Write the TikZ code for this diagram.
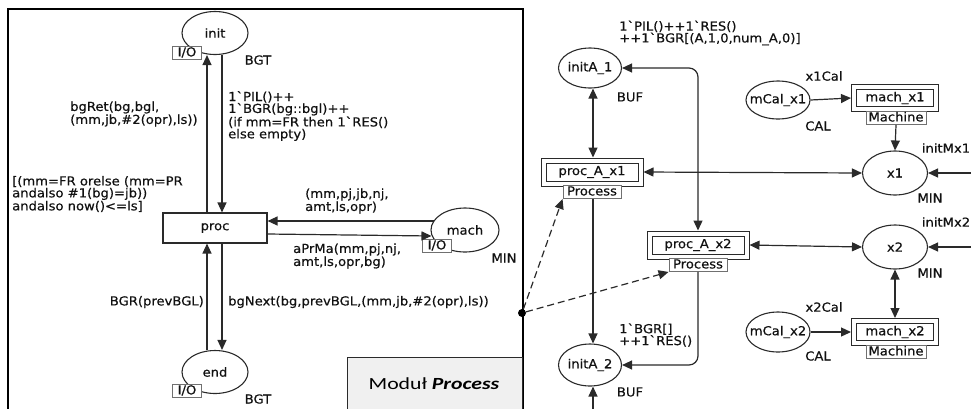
\documentclass[tikz,border=0pt]{standalone}
\usepackage{fontspec}
\newfontfamily\cpn{DejaVu Sans}[FakeStretch=1.06, FakeBold=0.5]
\newfontfamily\modfont{Carlito}[FakeStretch=1.28]
\usetikzlibrary{arrows.meta,calc,shapes.geometric}
\newcommand\cpntext{\cpn\fontsize{12.4pt}{11.9pt}\selectfont}
\definecolor{linec}{HTML}{2A2A2A}
\definecolor{textc}{HTML}{111111}
\definecolor{tagc}{HTML}{707070}
\definecolor{modfill}{HTML}{F0F0F0}
\tikzset{
  place/.style={ellipse, draw=linec, line width=1.1pt, inner xsep=-7pt,
    inner ysep=0pt, minimum width=66pt, minimum height=43pt,
    font=\cpntext, text=textc},
  trans/.style={rectangle, draw=linec, line width=1.1pt, inner sep=0pt,
    minimum width=104pt, minimum height=30pt, font=\cpntext, text=textc},
  subst/.style={rectangle, draw=linec, line width=1pt, inner sep=0pt,
    minimum width=102pt, minimum height=28pt, font=\cpntext, text=textc,
    path picture={\draw[linec, line width=1pt]
      ([shift={(5pt,-5pt)}]path picture bounding box.north west) rectangle
      ([shift={(-5pt,5pt)}]path picture bounding box.south east);}},
  tag/.style={rectangle, draw=tagc, fill=white, line width=0.9pt,
    inner sep=0pt, minimum height=13pt, text height=9pt, text depth=2.2pt,
    font=\cpntext, text=textc},
  lbl/.style={inner sep=0pt, font=\cpntext, text=textc, align=left},
  tip/.tip={Triangle[length=10pt,width=9pt]},
  pnarc/.style={line width=1.2pt, draw=linec, -tip},
  biarc/.style={line width=1.2pt, draw=linec, tip-tip},
}
\begin{document}
\begin{tikzpicture}[x=1pt,y=-1pt]
\useasboundingbox (0,0) rectangle (971,408);

% ---- module frame ----
\draw[line width=1.4pt, black] (8,409) -- (8,9) -- (523,9) -- (523,409);
\path[draw=linec, fill=modfill, line width=0.9pt] (347,409) -- (347,357) -- (522,357) -- (522,409);
\node[inner sep=0pt, font=\modfont\fontsize{17pt}{20pt}\selectfont] (modtitle) at (434,384) {Moduł \textbf{\textit{Process}}};

% ---- Process module net ----
\node[place] (init) at (215,33) {init};
\node[tag, minimum width=29pt] (initio) at (187,53) {I/O};
\node[lbl] (initty) at (258,60) {BGT};

\node[trans] (proc) at (215,228) {proc};

\node[place] (end) at (215,372) {end};
\node[tag, minimum width=29pt] (endio) at (187,391) {I/O};
\node[lbl] (endty) at (258,399) {BGT};

\node[place, minimum width=68pt, minimum height=44pt] (mach) at (465,230) {mach};
\node[tag, minimum width=29pt] (machio) at (437,246) {I/O};
\node[lbl] (machty) at (504,258) {MIN};

\draw[pnarc] ([xshift=-8pt]proc.north) -- ([xshift=-8pt]init.south);
\draw[pnarc] ([xshift=7pt]init.south) -- ([xshift=7pt]proc.north);
\draw[pnarc] ([xshift=-8pt]end.north) -- ([xshift=-8pt]proc.south);
\draw[pnarc] ([xshift=7pt]proc.south) -- ([xshift=7pt]end.north);
\draw[pnarc] ([shift={(4pt,9pt)}]mach.west) -- ([yshift=9pt]mach.west -| proc.east);
\draw[pnarc] ([yshift=-6pt]proc.east) -- ([shift={(1pt,-6pt)}]mach.west);

\node[lbl, anchor=west] (retlbl) at (70,114) {bgRet(bg,bgl,\\(mm,jb,\#2(opr),ls))};
\node[lbl, anchor=west] (outlbl) at (228,116) {1`PIL()++\\1`BGR(bg::bgl)++\\(if mm=FR then 1`RES()\\else empty)};
\node[lbl, anchor=west] (guard) at (12,194) {[(mm=FR orelse (mm=PR\\andalso \#1(bg)=jb))\\andalso now()<=ls]};
\node[lbl, anchor=west] (inmach) at (305,201) {(mm,pj,jb,nj,\\amt,ls,opr)};
\node[lbl, anchor=west] (outmach) at (293,256) {aPrMa(mm,pj,nj,\\amt,ls,opr,bg)};
\node[lbl, anchor=east] (prevlbl) at (204,302) {BGR(prevBGL)};
\node[lbl, anchor=west] (nextlbl) at (228,302) {bgNext(bg,prevBGL,(mm,jb,\#2(opr),ls))};

% ---- instance connection ----
\node[circle, fill=black, inner sep=0pt, minimum size=8pt] (dot) at (522,313) {};

% ---- superpage net ----
\node[place, minimum width=63pt, minimum height=40pt] (ia1) at (590,68) {initA\_1};
\node[lbl] (ia1ty) at (630,97) {BUF};
\node[lbl, anchor=west] (ia1init) at (619,33) {1`PIL()++1`RES()\\++1`BGR[(A,1,0,num\_A,0)]};

\node[subst] (pa1) at (592,172) {proc\_A\_x1};
\node[tag, minimum width=58pt] (pa1tag) at (592,192) {Process};

\node[subst] (pa2) at (698,245) {proc\_A\_x2};
\node[tag, minimum width=58pt] (pa2tag) at (698,265) {Process};

\node[place, minimum width=63pt, minimum height=42pt] (ia2) at (590,365) {initA\_2};
\node[lbl] (ia2ty) at (630,392) {BUF};
\node[lbl, anchor=west] (ia2init) at (619,335) {1`BGR[]\\++1`RES()};

\node[place, minimum width=65pt, minimum height=44pt] (x1) at (895,173) {x1};
\node[lbl] (x1ty) at (930,198) {MIN};
\node[lbl] (x1init) at (946,148) {initMx1};
\node[place, minimum width=65pt, minimum height=44pt] (x2) at (895,247) {x2};
\node[lbl] (x2ty) at (930,273) {MIN};
\node[lbl] (x2init) at (946,222) {initMx2};

\node[subst, minimum width=87pt, minimum height=27pt] (m1) at (895,98) {mach\_x1};
\node[tag, minimum width=60pt] (m1tag) at (896,118) {Machine};
\node[subst, minimum width=87pt, minimum height=27pt] (m2) at (895,332) {mach\_x2};
\node[tag, minimum width=60pt] (m2tag) at (896,352) {Machine};

\node[place, minimum width=64pt, minimum height=38pt] (c1) at (778,100) {mCal\_x1};
\node[lbl] (c1init) at (824,76) {x1Cal};
\node[lbl] (c1ty) at (818,126) {CAL};
\node[place, minimum width=64pt, minimum height=40pt] (c2) at (778,332) {mCal\_x2};
\node[lbl] (c2init) at (824,307) {x2Cal};
\node[lbl] (c2ty) at (818,356) {CAL};

\coordinate (in1) at (972,173);
\coordinate (in2) at (972,247);
\coordinate (below) at (593,409);

\draw[biarc] ([xshift=3pt]ia1.south) -- ([xshift=1pt]pa1.north);
\draw[pnarc] ([xshift=1pt]pa1tag.south) -- ([xshift=3pt]ia2.north);
\draw[pnarc] (below) -- ([xshift=3pt]ia2.south);
\draw[biarc, rounded corners=9pt] (ia1.east) -- (ia1.east -| pa2.north) -- (pa2.north);
\draw[pnarc, rounded corners=9pt] (pa2tag.south) -- (pa2tag.south |- ia2.east) -- (ia2.east);
\draw[biarc] (pa1.east) -- (x1.west);
\draw[biarc] (pa2.east) -- (x2.west);
\draw[pnarc] (in1) -- (x1.east);
\draw[pnarc] (in2) -- (x2.east);
\draw[pnarc] (m1tag.south) -- (x1.north);
\draw[biarc] (x2.south) -- (m2.north);
\draw[pnarc] (c1.east) -- (m1.west);
\draw[pnarc] (c2.east) -- (m2.west);

\draw[pnarc, dashed, dash pattern=on 7pt off 4pt] (dot) -- (pa1tag.south west);
\draw[pnarc, dashed, dash pattern=on 7pt off 4pt] (dot) -- (pa2tag.south west);
\end{tikzpicture}
\end{document}
